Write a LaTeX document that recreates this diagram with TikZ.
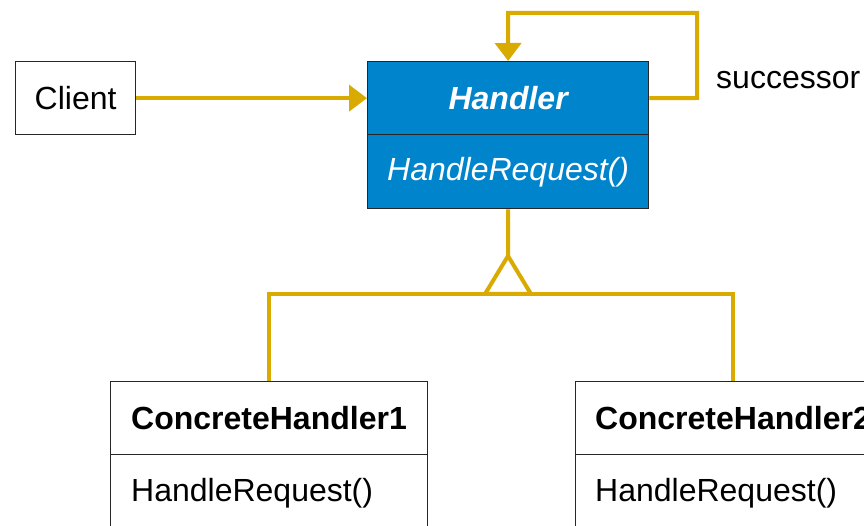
\documentclass[tikz,border=0pt]{standalone}
\usepackage{fontspec}
\setmainfont{Liberation Sans}
\usetikzlibrary{arrows.meta}
\definecolor{linkgold}{HTML}{D9AA00}
\definecolor{classblue}{HTML}{0084CC}
\tikzset{
  box/.style={draw=black!85, line width=1.3pt, fill=white, inner sep=0pt, anchor=north west},
  bluebox/.style={box, fill=classblue},
  link/.style={draw=linkgold, line width=4pt},
  arrowlink/.style={link, -{Triangle[length=18pt, width=26pt]}},
  txt/.style={font=\fontsize{32}{38}\selectfont, inner sep=0pt},
}
\begin{document}
\begin{tikzpicture}[x=1pt, y=-1pt]
\useasboundingbox (0,0) rectangle (864,526);
\begin{scope}
\clip (0,0) rectangle (864,526);

% Client
\node[box, minimum width=120pt, minimum height=73pt] (client) at (15,61) {};
\node[txt] at (client.center) {Client};

% Abstract handler class (two compartments)
\node[bluebox, minimum width=281pt, minimum height=73pt] (htop) at (367,61) {};
\node[bluebox, minimum width=281pt, minimum height=74pt] (hbot) at (367,134) {};
\node[txt, text=white, font=\fontsize{32}{38}\selectfont\bfseries\itshape] at (htop.center) {Handler};
\node[txt, text=white, font=\fontsize{32}{38}\selectfont\itshape] at ([yshift=-1pt]hbot.center) {HandleRequest()};

% Concrete handlers
\node[box, minimum width=317pt, minimum height=73pt] (c1top) at (110,381) {};
\node[box, minimum width=317pt, minimum height=90pt] (c1bot) at (110,454) {};
\node[txt, anchor=west, font=\fontsize{32}{38}\selectfont\bfseries] at (131,418) {ConcreteHandler1};
\node[txt, anchor=west] at (131,493) {HandleRequest()};

\node[box, minimum width=317pt, minimum height=73pt] (c2top) at (575,381) {};
\node[box, minimum width=317pt, minimum height=90pt] (c2bot) at (575,454) {};
\node[txt, anchor=west, font=\fontsize{32}{38}\selectfont\bfseries] at (595,418) {ConcreteHandler2};
\node[txt, anchor=west] at (595,493) {HandleRequest()};

% Client -> Handler
\draw[arrowlink] (client.east) -- (htop.west);

% successor self-association
\coordinate (loopA) at (697,98);
\coordinate (loopB) at (697,13);
\coordinate (loopC) at (508,13);
\draw[arrowlink, line join=miter] (htop.east) -- (loopA) -- (loopB) -- (loopC) -- (htop.north);
\node[txt, anchor=west] (succ) at (716,80) {successor};

% Generalization
\coordinate (apex) at (508,256);
\coordinate (baseL) at (485,294);
\coordinate (baseR) at (531,294);
\coordinate (barL) at (269,294);
\coordinate (barR) at (733,294);
\draw[link] (hbot.south) -- (apex);
\draw[link, line join=miter] (c1top.north -| barL) -- (barL) -- (barR) -- (c2top.north -| barR);
\draw[link, fill=white, line join=miter] (apex) -- (baseR) -- (baseL) -- cycle;
\end{scope}
\end{tikzpicture}
\end{document}
